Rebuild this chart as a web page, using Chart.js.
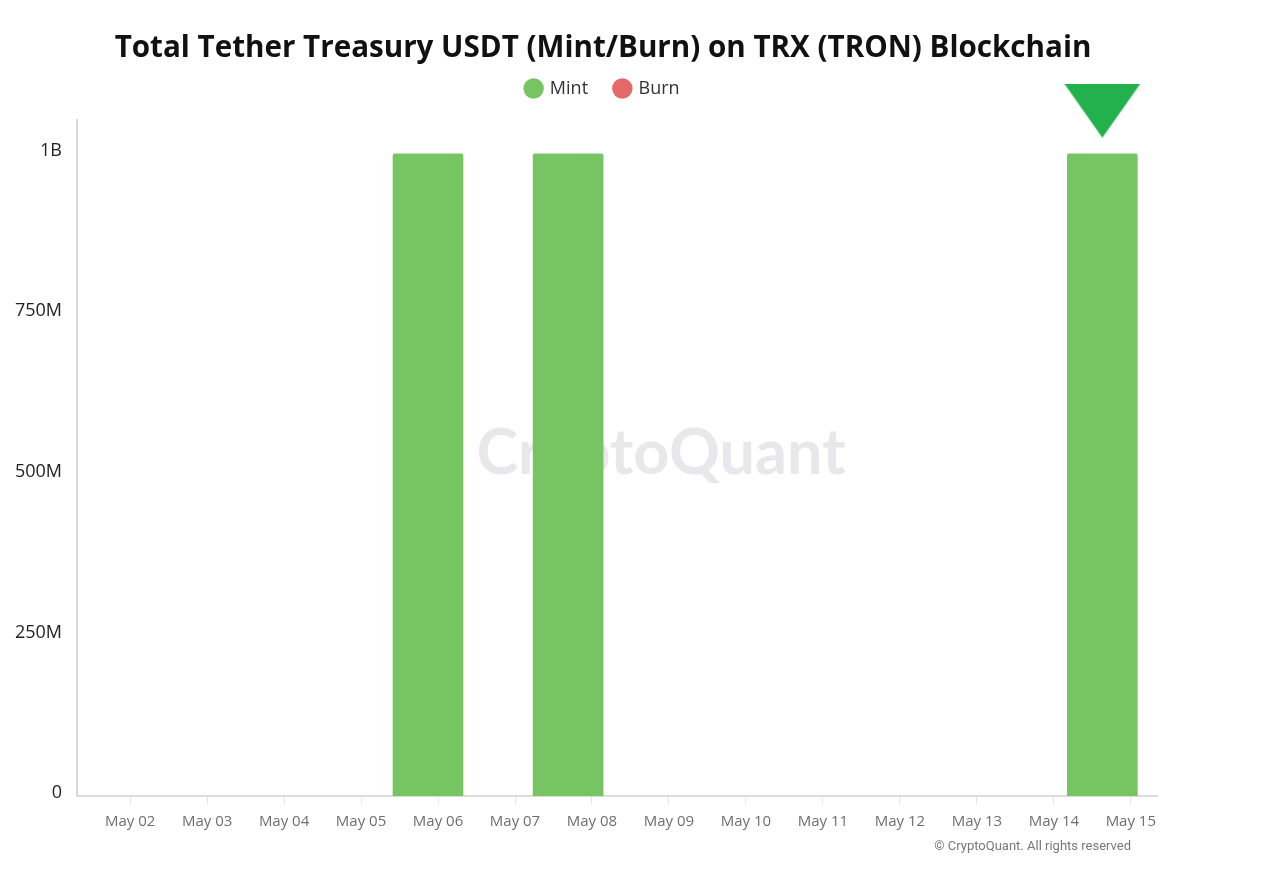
<!DOCTYPE html>
<html>
<head>
<meta charset="utf-8">
<title>Total Tether Treasury USDT (Mint/Burn) on TRX (TRON) Blockchain</title>
<script src="https://cdn.jsdelivr.net/npm/chart.js@4/dist/chart.umd.min.js"></script>
<style>
  html, body { margin: 0; padding: 0; background: #fff; }
  canvas { display: block; }
</style>
</head>
<body>
<canvas id="mintChart" width="1206" height="873"></canvas>
<script>
// Data (x = day of May, bars do not sit on the day ticks)
const tickDays = [2, 3, 4, 5, 6, 7, 8, 9, 10, 11, 12, 13, 14, 15];
const tickLabels = ['May 02', 'May 03', 'May 04', 'May 05', 'May 06', 'May 07', 'May 08',
  'May 09', 'May 10', 'May 11', 'May 12', 'May 13', 'May 14', 'May 15'];
const yTickValues = [0, 250000000, 500000000, 750000000, 1000000000];
const yTickLabels = ['0', '250M', '500M', '750M', '1B'];
const mintDays = [5.87, 7.69, 14.63];
const mintValues = [1000000000, 1000000000, 1000000000];
const burnDays = [];
const burnValues = [];
const markerDays = [14.63];
const markerValues = [1067000000];

const FONT = '"Open Sans", "Noto Sans", sans-serif';

// Arrow above the last bar, wider than the built in triangle
const arrow = document.createElement('canvas');
arrow.width = 76;
arrow.height = 54;
const a = arrow.getContext('2d');
a.fillStyle = '#22b14c';
a.beginPath();
a.moveTo(0, 0);
a.lineTo(76, 0);
a.lineTo(38, 54);
a.closePath();
a.fill();

// Watermark goes behind the bars, copyright under the axis
const brandText = {
  id: 'brandText',
  beforeDatasetsDraw(chart) {
    const c = chart.ctx;
    c.save();
    c.font = 'bold 63px Lato, sans-serif';
    c.fillStyle = '#e8e8ec';
    c.textAlign = 'center';
    c.textBaseline = 'middle';
    c.fillText('CryptoQuant', 661, 454);
    c.restore();
  },
  afterDraw(chart) {
    const c = chart.ctx;
    c.save();
    c.font = '13px Roboto, sans-serif';
    c.fillStyle = '#777';
    c.textAlign = 'right';
    c.textBaseline = 'middle';
    c.fillText('© CryptoQuant. All rights reserved', 1131, 847);
    c.restore();
  }
};

const toPoints = (xs, ys) => xs.map((x, i) => ({ x: x, y: ys[i] }));

const ctx = document.getElementById('mintChart').getContext('2d');
new Chart(ctx, {
  type: 'bar',
  data: {
    datasets: [{
      label: 'Mint',
      data: toPoints(mintDays, mintValues),
      backgroundColor: 'rgba(115, 196, 95, 0.98)',
      barThickness: 70,
      grouped: false,
      borderRadius: 2
    }, {
      label: 'Burn',
      data: toPoints(burnDays, burnValues),
      backgroundColor: '#e46a6a',
      barThickness: 70,
      grouped: false
    }, {
      type: 'scatter',
      label: 'marker',
      data: toPoints(markerDays, markerValues),
      pointStyle: arrow,
      pointRadius: 38,
      clip: false
    }]
  },
  options: {
    responsive: false,
    animation: false,
    plugins: {
      tooltip: { enabled: false },
      title: {
        display: true,
        text: 'Total Tether Treasury USDT (Mint/Burn) on TRX (TRON) Blockchain',
        color: '#111',
        font: { family: FONT, size: 29.6, weight: 'bold' },
        padding: { top: 31, bottom: -14 }
      },
      // empty box, only holds the gap between legend and plot
      subtitle: {
        display: true,
        text: '',
        weight: 500,
        font: { size: 1 },
        padding: { top: 0, bottom: 11 }
      },
      legend: {
        labels: {
          usePointStyle: true,
          pointStyle: 'circle',
          boxWidth: 14.5,
          boxHeight: 14.5,
          padding: 27,
          color: '#333',
          font: { family: FONT, size: 18 },
          filter: item => item.text !== 'marker'
        }
      }
    },
    scales: {
      x: {
        type: 'linear',
        offset: false,
        min: 1.31,
        max: 15.34,
        afterFit: s => { s.height = 77; },
        afterBuildTicks: s => { s.ticks = tickDays.map(v => ({ value: v })); },
        border: { color: '#dcdcdc', width: 2 },
        grid: { offset: false, drawOnChartArea: false, color: '#e4e4e4', tickLength: 8 },
        ticks: {
          autoSkip: false,
          maxRotation: 0,
          padding: 9,
          color: '#6f6f6f',
          font: { family: FONT, size: 15 },
          callback: v => tickLabels[tickDays.indexOf(v)]
        }
      },
      y: {
        min: 0,
        max: 1053000000,
        afterFit: s => { s.width = 77; },
        afterBuildTicks: s => { s.ticks = yTickValues.map(v => ({ value: v })); },
        border: { color: '#d8d8d8', width: 2 },
        grid: { display: false },
        ticks: {
          padding: 7,
          labelOffset: -3,
          color: '#222',
          font: { family: FONT, size: 18 },
          callback: v => yTickLabels[yTickValues.indexOf(v)]
        }
      },
      // blank axis on the right so the title stays centred over the 1206px box
      yRight: {
        position: 'right',
        afterFit: s => { s.width = 49; },
        border: { display: false },
        grid: { display: false },
        ticks: { display: false }
      }
    }
  },
  plugins: [brandText]
});
</script>
</body>
</html>
